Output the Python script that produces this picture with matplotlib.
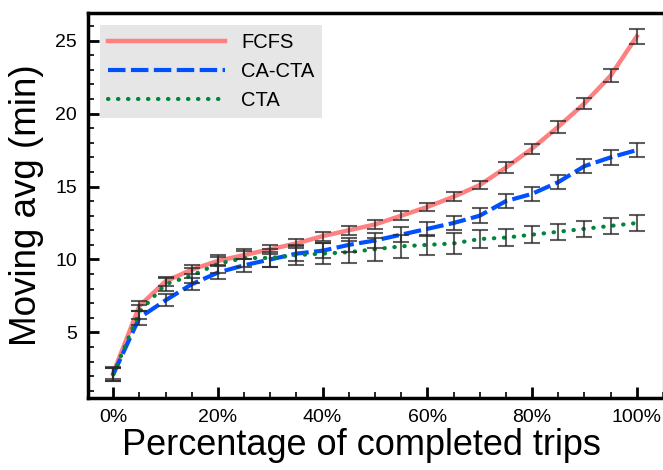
import matplotlib
matplotlib.use('Agg')
import matplotlib.pyplot as plt
import matplotlib.ticker as mticker
import numpy as np

plt.rcParams['font.family'] = ['Liberation Sans', 'DejaVu Sans']

# percentage of completed trips
pct = [0, 5, 10, 15, 20, 25, 30, 35, 40, 45, 50,
       55, 60, 65, 70, 75, 80, 85, 90, 95, 100]

fcfs = [2.2, 6.8, 8.5, 9.3, 9.9, 10.3, 10.7, 11.1, 11.6, 12.0, 12.4,
        13.0, 13.6, 14.3, 15.1, 16.3, 17.6, 19.1, 20.7, 22.6, 25.3]
fcfs_err = [0.4, 0.35, 0.3, 0.3, 0.3, 0.3, 0.3, 0.3, 0.3, 0.3, 0.3,
            0.3, 0.3, 0.3, 0.3, 0.35, 0.35, 0.4, 0.4, 0.45, 0.5]

ca_cta = [2.1, 6.0, 7.2, 8.3, 9.1, 9.6, 10.0, 10.4, 10.6, 11.0, 11.3,
          11.7, 12.1, 12.5, 13.0, 14.0, 14.5, 15.3, 16.4, 17.0, 17.5]
ca_cta_err = [0.45, 0.5, 0.4, 0.4, 0.45, 0.45, 0.5, 0.5, 0.5, 0.5, 0.5,
              0.5, 0.5, 0.5, 0.5, 0.5, 0.5, 0.5, 0.5, 0.5, 0.5]

cta = [2.1, 6.4, 8.3, 8.9, 9.7, 10.1, 10.1, 10.3, 10.4, 10.5, 10.7,
       10.9, 11.0, 11.1, 11.4, 11.5, 11.7, 11.9, 12.1, 12.3, 12.5]
cta_err = [0.45, 0.5, 0.45, 0.5, 0.6, 0.6, 0.6, 0.7, 0.7, 0.75, 0.8,
           0.8, 0.7, 0.7, 0.6, 0.6, 0.6, 0.55, 0.55, 0.55, 0.55]

fig = plt.figure(figsize=(6.63, 4.70), dpi=100)
ax = fig.add_axes([88 / 663, 1 - 398 / 470, (663 - 88) / 663, (398 - 13) / 470])

ax.plot(pct, fcfs, color='#ff8080', lw=3.2, label='FCFS', zorder=2)
ax.plot(pct, ca_cta, color='#0050ff', lw=3, ls=(0, (4.2, 1.3)), label='CA-CTA', zorder=3)
ax.plot(pct, cta, color='#00853a', lw=3, ls=(0, (0.1, 2.3)), dash_capstyle='round',
        label='CTA', zorder=4)

for vals, errs in [(fcfs, fcfs_err), (ca_cta, ca_cta_err), (cta, cta_err)]:
    ax.errorbar(pct, vals, yerr=errs, fmt='none', ecolor='#2a2a2a', alpha=0.75,
                elinewidth=1.5, capsize=6, capthick=1.5, zorder=5)

ax.set_xlim(-4.8, 105)
ax.set_ylim(0.5, 26.9)
ax.xaxis.set_major_locator(mticker.MultipleLocator(20))
ax.xaxis.set_minor_locator(mticker.MultipleLocator(5))
ax.xaxis.set_major_formatter(mticker.FuncFormatter(lambda v, p: '%d%%' % v))
ax.yaxis.set_major_locator(mticker.MultipleLocator(5))
ax.yaxis.set_minor_locator(mticker.MultipleLocator(1))
ax.set_yticks([5, 10, 15, 20, 25])

ax.tick_params(which='major', direction='in', length=8, width=2, labelsize=14, pad=8)
ax.tick_params(which='minor', direction='in', length=4, width=1.2)
ax.tick_params(top=False, right=False)
for side in ['left', 'bottom', 'top']:
    ax.spines[side].set_linewidth(2.5)
ax.spines['right'].set_linewidth(1)
ax.spines['right'].set_color('#aaaaaa')

ax.set_xlabel('Percentage of completed trips', fontsize=26)
ax.xaxis.set_label_coords(0.475, -0.077)
ax.set_ylabel('Moving avg (min)', fontsize=26.5, labelpad=8)

leg = ax.legend(loc='upper left', fontsize=14.5, handlelength=5.8, frameon=True,
                fancybox=False, borderaxespad=0.6, labelspacing=0.5)
leg.get_frame().set_facecolor('#e6e6e6')
leg.get_frame().set_edgecolor('none')
leg.get_frame().set_alpha(1)

fig.savefig('out.png', dpi=100)
